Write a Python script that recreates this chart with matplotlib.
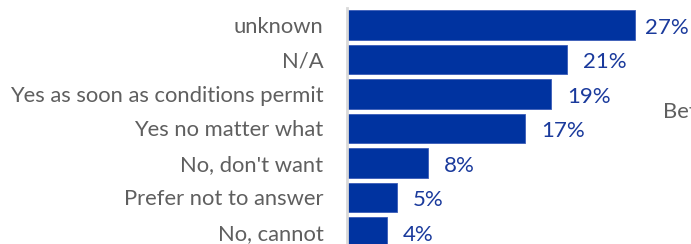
import numpy as np
from matplotlib import pyplot as plt

plt.rcParams['font.family'] = ['Lato', 'DejaVu Sans']

categories = ['unknown', 'N/A', 'Yes as soon as conditions permit', 'Yes no matter what',
              "No, don't want", 'Prefer not to answer', 'No, cannot']
shares = [27.0, 20.6, 19.1, 16.7, 7.6, 4.7, 3.7]  # [%]
share_labels = ['27%', '21%', '19%', '17%', '8%', '5%', '4%']
side_note = 'Between'

bar_blue = '#0033A0'
text_blue = '#1A3A9C'
grey = '#5f5f5f'

W, H = 691, 244
fig = plt.figure(figsize=(W / 100, H / 100), dpi=100)
ax = fig.add_axes([347 / W, 0, 1 - 347 / W, (H - 8) / H])

y = np.arange(len(categories))
ax.barh(y, shares, height=0.86, color=bar_blue, edgecolor='#3a5cb8', linewidth=0.6)

xmax = 32.2
ax.set_xlim(0, xmax)
ax.set_ylim(6.35, -0.493)

for yi, v, lab in zip(y, shares, share_labels):
    x = min(v + 1.5, 27.9)
    ax.text(x, yi + 0.08, lab, color=text_blue, fontsize=16, va='center', ha='left')

ax.set_yticks(y)
ax.set_yticklabels(categories, fontsize=15.8, color=grey)
ax.tick_params(axis='y', length=0, pad=17)
ax.set_xticks([])

for s in ['top', 'right', 'bottom']:
    ax.spines[s].set_visible(False)
ax.spines['left'].set_color('#d9d9d9')
ax.spines['left'].set_linewidth(2)

fig.text(663 / W, 1 - 112 / H, side_note, color=grey, fontsize=15.8, va='center', ha='left')

fig.savefig('out.png', dpi=100)
